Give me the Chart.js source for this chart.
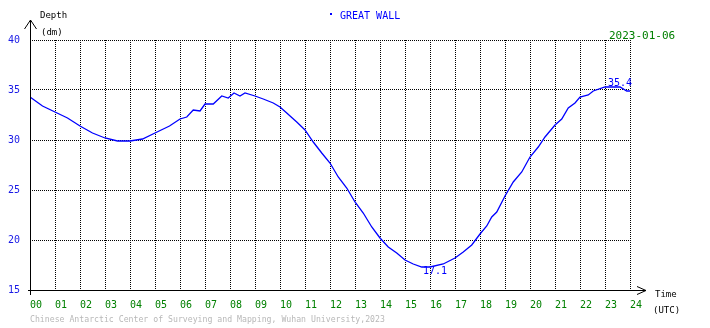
<!DOCTYPE html>
<html>
<head>
<meta charset="utf-8">
<script src="https://cdn.jsdelivr.net/npm/chart.js@4.4.0/dist/chart.umd.min.js"></script>
<style>
  html, body { margin: 0; padding: 0; background: #fff; }
  #wrap { width: 710px; height: 328px; }
</style>
</head>
<body>
<div id="wrap"><canvas id="tideChart" width="710" height="328"></canvas></div>
<script>
// Tide depth readings (hours UTC, depth in dm)
const hours = [0, 0.5, 1, 1.5, 2, 2.5, 3, 3.5, 4, 4.5, 5, 5.58, 6, 6.27, 6.53, 6.8, 7, 7.33, 7.67, 7.93,
  8.16, 8.4, 8.6, 9, 9.33, 9.73, 10, 10.27, 10.67, 11, 11.33, 11.67, 12, 12.33, 12.67, 13, 13.33, 13.67,
  14, 14.33, 14.67, 15, 15.33, 15.67, 16, 16.53, 17, 17.33, 17.67, 18, 18.27, 18.47, 18.67, 19, 19.33,
  19.67, 20, 20.33, 20.6, 21, 21.27, 21.53, 21.8, 22, 22.33, 22.53, 23, 23.27, 23.6, 23.87, 24];
const depths = [34.3, 33.4, 32.8, 32.2, 31.4, 30.7, 30.2, 29.9, 29.9, 30.1, 30.7, 31.4, 32.1, 32.3, 33.0, 32.9, 33.6, 33.6, 34.4, 34.2,
  34.7, 34.4, 34.7, 34.4, 34.1, 33.7, 33.3, 32.7, 31.8, 31.0, 29.8, 28.7, 27.7, 26.3, 25.2, 23.8, 22.7, 21.3,
  20.2, 19.3, 18.7, 18.0, 17.6, 17.3, 17.3, 17.6, 18.2, 18.8, 19.5, 20.6, 21.4, 22.3, 22.8, 24.4, 25.8,
  26.8, 28.3, 29.3, 30.3, 31.5, 32.1, 33.2, 33.7, 34.3, 34.5, 34.9, 35.3, 35.3, 35.3, 34.9, 34.9];
const hourLabels = ['00','01','02','03','04','05','06','07','08','09','10','11','12',
  '13','14','15','16','17','18','19','20','21','22','23','24'];
const depthTicks = [15, 20, 25, 30, 35, 40];

// extreme value labels
const maxLabel = { hour: 23.6, value: 35.4 };
const minLabel = { hour: 16.2, value: 17.1 };

const mono = "'DejaVu Sans Mono', monospace";

// axis arrows, titles, footer
const decorations = {
    id: 'decorations',
    afterDraw(chart) {
        const ctx = chart.ctx;
        const a = chart.chartArea;
        const xs = chart.scales.x, ys = chart.scales.y;
        ctx.save();
        ctx.strokeStyle = '#000';
        ctx.lineWidth = 1;
        ctx.beginPath();
        // y axis + arrow
        ctx.moveTo(a.left + 0.5, a.bottom + 5);
        ctx.lineTo(a.left + 0.5, 20);
        ctx.moveTo(a.left - 5.5, 29);
        ctx.lineTo(a.left + 0.5, 20);
        ctx.lineTo(a.left + 6.5, 29);
        // x axis + arrow
        ctx.moveTo(a.left - 2, a.bottom + 0.5);
        ctx.lineTo(646, a.bottom + 0.5);
        ctx.moveTo(637, a.bottom - 3.5);
        ctx.lineTo(646, a.bottom + 0.5);
        ctx.lineTo(637, a.bottom + 4.5);
        ctx.stroke();

        ctx.textBaseline = 'middle';
        ctx.textAlign = 'left';
        ctx.fillStyle = '#000';
        ctx.font = '9px ' + mono;
        ctx.fillText('Depth', 40, 16);
        ctx.fillText('(dm)', 41, 33);
        ctx.fillText('Time', 655, 295);
        ctx.fillText('(UTC)', 653, 311);

        ctx.fillStyle = '#0000ff';
        ctx.fillRect(330, 13, 2, 2);
        ctx.font = '10px ' + mono;
        ctx.fillText('GREAT WALL', 340, 16);

        ctx.fillStyle = '#008000';
        ctx.font = '11px ' + mono;
        ctx.fillText('2023-01-06', 609, 36);

        ctx.fillStyle = '#b8b8b8';
        ctx.font = '8.2px ' + mono;
        ctx.fillText('Chinese Antarctic Center of Surveying and Mapping, Wuhan University,2023', 30, 320);

        ctx.fillStyle = '#0000ff';
        ctx.font = '10px ' + mono;
        ctx.textAlign = 'center';
        ctx.textBaseline = 'bottom';
        ctx.fillText(maxLabel.value.toFixed(1), xs.getPixelForValue(maxLabel.hour), ys.getPixelForValue(maxLabel.value) + 2);
        ctx.textBaseline = 'top';
        ctx.fillText(minLabel.value.toFixed(1), xs.getPixelForValue(minLabel.hour), ys.getPixelForValue(minLabel.value) - 3);
        ctx.restore();
    }
};

const tideCtx = document.getElementById('tideChart').getContext('2d');
const tideChart = new Chart(tideCtx, {
    type: 'line',
    data: {
        datasets: [{
            label: 'Depth',
            data: hours.map((h, i) => ({ x: h, y: depths[i] })),
            borderColor: '#0000ff',
            borderWidth: 1.3,
            pointRadius: 0,
            tension: 0,
            fill: false
        }]
    },
    options: {
        responsive: false,
        animation: false,
        layout: { padding: { top: 40, right: 80, left: 0, bottom: 0 } },
        plugins: {
            legend: { display: false },
            tooltip: { enabled: false }
        },
        scales: {
            x: {
                type: 'linear',
                min: 0,
                max: 24,
                afterFit: (s) => { s.height = 38; },
                afterBuildTicks: (s) => { s.ticks = hourLabels.map((_, i) => ({ value: i })); },
                border: { display: false, dash: [1, 1] },
                grid: { color: '#000', lineWidth: 1, drawTicks: false },
                ticks: {
                    padding: 9,
                    align: 'start',
                    color: '#008000',
                    font: { family: mono, size: 10 },
                    callback: (v) => hourLabels[v]
                }
            },
            y: {
                min: 15,
                max: 40,
                afterFit: (s) => { s.width = 30; },
                afterBuildTicks: (s) => { s.ticks = depthTicks.map(v => ({ value: v })); },
                border: { display: false, dash: [1, 1] },
                grid: { color: '#000', lineWidth: 1, drawTicks: false },
                ticks: {
                    padding: 10,
                    color: '#1a1ae6',
                    font: { family: mono, size: 10 }
                }
            }
        }
    },
    plugins: [decorations]
});
</script>
</body>
</html>
